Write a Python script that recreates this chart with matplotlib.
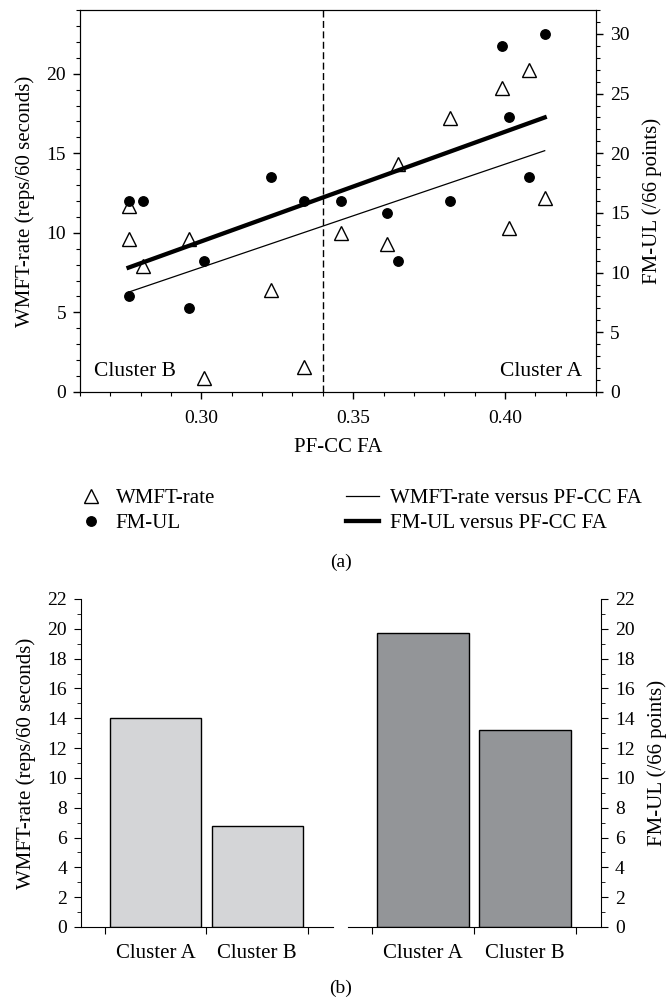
import matplotlib.pyplot as plt
from matplotlib.lines import Line2D
from matplotlib.ticker import MultipleLocator
import numpy as np

plt.rcParams['font.family'] = ['Liberation Serif', 'DejaVu Serif']
plt.rcParams['font.size'] = 14

# dados do painel (a)
pf_cc_fa = [0.276, 0.276, 0.2807, 0.2959, 0.3008, 0.3229, 0.3339, 0.346,
            0.3611, 0.3647, 0.382, 0.399, 0.4012, 0.4079, 0.4131]
wmft_rate = [9.6, 11.7, 7.9, 9.6, 0.9, 6.4, 1.6, 10.0,
             9.3, 14.3, 17.2, 19.1, 10.3, 20.2, 12.2]
fm_ul = [16, 8, 16, 7, 11, 18, 16, 16, 15, 11, 16, 29, 23, 18, 30]
cluster_cut = 0.34

# dados do painel (b)
clusters = ['Cluster A', 'Cluster B']
wmft_media = [14.0, 6.8]
fm_media = [19.7, 13.2]

fig = plt.figure(figsize=(6.66, 10.02), dpi=100)

# ---------------- (a) ----------------
ax = fig.add_axes([0.1201, 0.6088, 0.7748, 0.3812])
ax2 = ax.twinx()

x = np.array(pf_cc_fa)
p1 = np.polyfit(x, wmft_rate, 1)
p2 = np.polyfit(x, fm_ul, 1)
xl = np.array([x.min(), x.max()])

ax.plot(x, wmft_rate, '^', ms=10, mfc='white', mec='black', mew=1.0, zorder=3)
ax.plot(xl, np.polyval(p1, xl), color='black', lw=0.9)
ax2.plot(x, fm_ul, 'o', ms=6.8, color='black', zorder=3)
ax2.plot(xl, np.polyval(p2, xl), color='black', lw=3.1)
ax.axvline(cluster_cut, color='black', lw=1, ls=(0, (5, 2.5)))

ax.set_xlim(0.26, 0.43)
ax.set_ylim(0, 24)
ax2.set_ylim(0, 32)
ax.xaxis.set_minor_locator(MultipleLocator(0.01))
ax.yaxis.set_major_locator(MultipleLocator(5))
ax.yaxis.set_minor_locator(MultipleLocator(1))
ax2.yaxis.set_major_locator(MultipleLocator(5))
ax2.yaxis.set_minor_locator(MultipleLocator(1))
ax.set_xticks([0.30, 0.35, 0.40])
ax.set_xticklabels(['0.30', '0.35', '0.40'])
for a in (ax, ax2):
    a.tick_params(which='major', direction='out', length=5, width=1, pad=5,
                  labelsize=14)
    a.tick_params(which='minor', direction='out', length=3, width=0.8)
ax.tick_params(axis='x', pad=8)

ax.set_xlabel('PF-CC FA', labelpad=8, fontsize=15)
ax.set_ylabel('WMFT-rate (reps/60 seconds)', labelpad=8, fontsize=15)
ax2.set_ylabel('FM-UL (/66 points)', labelpad=9, fontsize=15)
ax.text(0.2646, 1.3, 'Cluster B', ha='left', va='center', fontsize=15.5)
ax.text(0.4254, 1.3, 'Cluster A', ha='right', va='center', fontsize=15.5)

# legenda
h1 = Line2D([], [], marker='^', ls='none', ms=10, mfc='white', mec='black')
h2 = Line2D([], [], marker='o', ls='none', ms=6.8, color='black')
h3 = Line2D([], [], color='black', lw=0.9)
h4 = Line2D([], [], color='black', lw=3.1)
fig.legend([h1, h2], ['WMFT-rate', 'FM-UL'], loc='upper left',
           bbox_to_anchor=(0.089, 0.531), frameon=False, handlelength=1.2,
           handletextpad=0.6, labelspacing=0.25, fontsize=15)
fig.legend([h3, h4], ['WMFT-rate versus PF-CC FA', 'FM-UL versus PF-CC FA'],
           loc='upper left', bbox_to_anchor=(0.491, 0.531), frameon=False,
           handlelength=1.6, handletextpad=0.5, labelspacing=0.25,
           fontsize=15)
fig.text(0.512, 0.439, '(a)', ha='center', va='center', fontsize=14)

# ---------------- (b) ----------------
pos = np.arange(len(clusters))
bl = fig.add_axes([0.1216, 0.0749, 0.3784, 0.3273])
br = fig.add_axes([0.5225, 0.0749, 0.3799, 0.3273])
bl.bar(pos, wmft_media, width=0.9, color='#d4d5d7', edgecolor='black', lw=1)
br.bar(pos, fm_media, width=0.9, color='#939598', edgecolor='black', lw=1)
for b in (bl, br):
    b.set_xlim(-0.74, 1.75)
    b.set_ylim(0, 22)
    b.set_xticks([-0.5, 0.5, 1.5])
    b.set_xticklabels([])
    b.set_xticks(pos, minor=True)
    b.set_xticklabels(clusters, minor=True)
    b.tick_params(axis='x', which='minor', length=0, pad=12, labelsize=15)
    b.tick_params(axis='x', which='major', direction='out', length=5)
    b.yaxis.set_major_locator(MultipleLocator(2))
    b.yaxis.set_minor_locator(MultipleLocator(1))
    b.tick_params(axis='y', which='major', direction='out', length=5,
                  labelsize=14, pad=5)
    b.tick_params(axis='y', which='minor', direction='out', length=3)
    b.spines['top'].set_visible(False)
bl.spines['right'].set_visible(False)
br.spines['left'].set_visible(False)
br.yaxis.tick_right()
br.yaxis.set_label_position('right')
bl.set_ylabel('WMFT-rate (reps/60 seconds)', fontsize=15, labelpad=8)
br.set_ylabel('FM-UL (/66 points)', fontsize=15, labelpad=9)
fig.text(0.512, 0.014, '(b)', ha='center', va='center', fontsize=14)

plt.savefig('out.png', dpi=100)
